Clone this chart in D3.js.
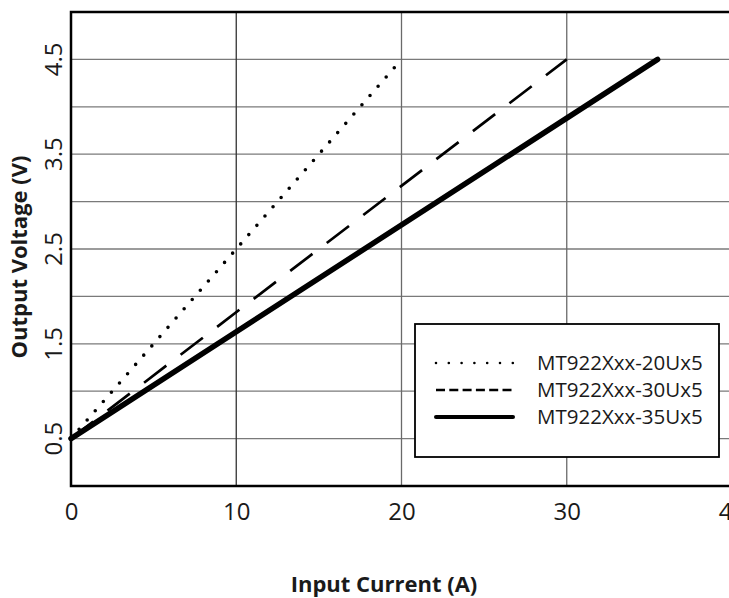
<!DOCTYPE html>
<html>
<head>
<meta charset="utf-8">
<script src="https://cdn.jsdelivr.net/npm/d3@7"></script>
<style>
  html, body { margin: 0; padding: 0; background: #fff; }
  svg { display: block; overflow: hidden; font-family: "Open Sans", sans-serif; }
</style>
</head>
<body>
<div id="chart"></div>
<script>
// series: straight lines from 0.5 V at 0 A up to 4.5 V
var seriesNames = ["MT922Xxx-20Ux5", "MT922Xxx-30Ux5", "MT922Xxx-35Ux5"];
var seriesCurrent = [[0, 20], [0, 30], [0, 35.5]];
var seriesVoltage = [[0.5, 4.5], [0.5, 4.5], [0.5, 4.5]];
var xTicks = [0, 10, 20, 30, 40];
var yTickLabels = [0.5, 1.5, 2.5, 3.5, 4.5];
var yGrid = [0.5, 1, 1.5, 2, 2.5, 3, 3.5, 4, 4.5];
var xTitle = "Input Current (A)";
var yTitle = "Output Voltage (V)";

(function () {
    // kept inside a function: a global "top" would clash with window.top
    var width = 729,
        height = 598,
        plotLeft = 71,
        plotRight = 732, // the 40 A edge falls just past the page, as in the original
        plotTop = 12,
        plotBottom = 486;

    // line looks for each series: dotted, dashed, thick solid
    var styles = [
        { width: 3.6, dash: "0,12.3", cap: "round", legendDash: "0,12.8" },
        { width: 2.7, dash: "28,18", cap: "butt", legendDash: "9,4.3" },
        { width: 5.5, dash: null, cap: "round", legendDash: null }
    ];

    var xScale = d3.scaleLinear().domain([0, 40]).range([plotLeft, plotRight]);
    var yScale = d3.scaleLinear().domain([0, 5]).range([plotBottom, plotTop]);

    var svg = d3.select("#chart")
        .append("svg")
        .attr("width", width)
        .attr("height", height);

    // horizontal grid
    svg.append("g")
        .selectAll("line")
        .data(yGrid)
        .enter()
        .append("line")
        .attr("x1", plotLeft)
        .attr("x2", plotRight)
        .attr("y1", function (d) { return yScale(d); })
        .attr("y2", function (d) { return yScale(d); })
        .attr("stroke", "#7a7a7a")
        .attr("stroke-width", 1.3);

    // vertical grid
    svg.append("g")
        .selectAll("line")
        .data(xTicks.filter(function (d) { return d > 0 && d < 40; }))
        .enter()
        .append("line")
        .attr("x1", function (d) { return xScale(d); })
        .attr("x2", function (d) { return xScale(d); })
        .attr("y1", plotTop)
        .attr("y2", plotBottom)
        .attr("stroke", function (d) { return d === 10 ? "#333" : "#6a6a6a"; })
        .attr("stroke-width", 1.3);

    // frame of the plot
    svg.append("rect")
        .attr("x", plotLeft)
        .attr("y", plotTop)
        .attr("width", plotRight - plotLeft)
        .attr("height", plotBottom - plotTop)
        .attr("fill", "none")
        .attr("stroke", "#000")
        .attr("stroke-width", 2.5);

    // x tick labels
    svg.append("g")
        .attr("transform", "translate(0," + plotBottom + ")")
        .call(d3.axisBottom(xScale).tickValues(xTicks).tickSize(0).tickPadding(17)
            .tickFormat(d3.format("d")))
        .call(function (g) {
            g.select(".domain").remove();
            g.selectAll("text")
                .attr("font-family", "Open Sans")
                .attr("font-size", 24)
                .attr("fill", "#1a1a1a");
        });

    // y tick labels, rotated
    svg.append("g")
        .selectAll("text")
        .data(yTickLabels)
        .enter()
        .append("text")
        .attr("transform", function (d) {
            return "translate(62," + yScale(d) + ") rotate(-90)";
        })
        .attr("text-anchor", "middle")
        .attr("font-size", 24)
        .attr("fill", "#1a1a1a")
        .text(function (d) { return d3.format(".1f")(d); });

    // axis titles
    svg.append("text")
        .attr("transform", "translate(27,257) rotate(-90)")
        .attr("text-anchor", "middle")
        .attr("font-size", 22)
        .attr("font-weight", "bold")
        .attr("fill", "#1a1a1a")
        .text(yTitle);

    svg.append("text")
        .attr("x", 384)
        .attr("y", 592)
        .attr("text-anchor", "middle")
        .attr("font-size", 22)
        .attr("font-weight", "bold")
        .attr("fill", "#1a1a1a")
        .text(xTitle);

    // the three curves
    var line = d3.line()
        .x(function (d) { return xScale(d[0]); })
        .y(function (d) { return yScale(d[1]); });

    seriesNames.forEach(function (name, i) {
        var pts = seriesCurrent[i].map(function (c, j) { return [c, seriesVoltage[i][j]]; });
        svg.append("path")
            .attr("d", line(pts))
            .attr("fill", "none")
            .attr("stroke", "#000")
            .attr("stroke-width", styles[i].width)
            .attr("stroke-linecap", styles[i].cap)
            .attr("stroke-dasharray", styles[i].dash);
    });

    // legend box
    var legend = svg.append("g").attr("transform", "translate(415,324)");

    legend.append("rect")
        .attr("width", 304)
        .attr("height", 133)
        .attr("fill", "#fff")
        .attr("stroke", "#000")
        .attr("stroke-width", 1.8);

    var rows = legend.selectAll(".row")
        .data(seriesNames)
        .enter()
        .append("g")
        .attr("class", "row")
        .attr("transform", function (d, i) { return "translate(0," + (39 + i * 27) + ")"; });

    rows.append("line")
        .attr("x1", 21)
        .attr("x2", 98)
        .attr("stroke", "#000")
        .attr("stroke-width", function (d, i) { return i === 2 ? 4 : 2.6; })
        .attr("stroke-linecap", function (d, i) { return i === 1 ? "butt" : "round"; })
        .attr("stroke-dasharray", function (d, i) { return styles[i].legendDash; });

    rows.append("text")
        .attr("x", 122)
        .attr("y", 7)
        .attr("font-size", 20.5)
        .attr("fill", "#1a1a1a")
        .text(function (d) { return d; });
})();
</script>
</body>
</html>
